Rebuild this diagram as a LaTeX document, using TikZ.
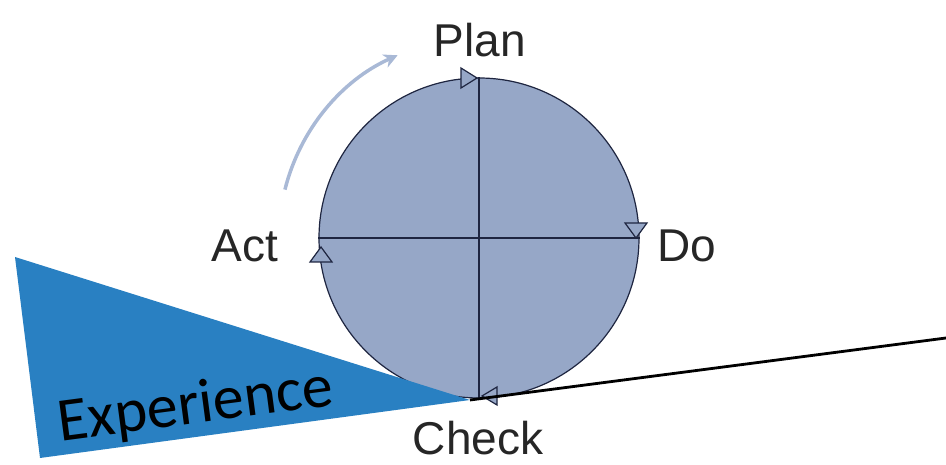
\documentclass[tikz,border=0pt]{standalone}
\usepackage{fontspec}
\setmainfont{Liberation Sans}
\newfontfamily\expfont{Carlito}
\usetikzlibrary{arrows.meta}
\definecolor{cfill}{HTML}{96A7C7}
\definecolor{cline}{HTML}{1E2540}
\definecolor{tri}{HTML}{2980C2}
\definecolor{arc}{HTML}{A9B9D6}
\tikzset{
  x=1pt,y=1pt,
  lbl/.style={font=\fontsize{46}{46}\selectfont, text=black!85, inner sep=0pt},
  marker/.style={draw=cline, fill=cfill, line width=1.2pt, line join=miter},
  axis/.style={draw=cline, line width=1.3pt},
}
\begin{document}
\begin{tikzpicture}
\useasboundingbox (0,0) rectangle (946,465);
% circle
\node[circle, minimum size=320pt, fill=cfill, draw=cline, line width=1.2pt, inner sep=0pt] (c) at (479,227) {};
\draw[axis] (c.north) -- (c.south);
\draw[axis] (c.west) -- (c.east);
% cycle arrow
\draw[arc, line width=3.5pt, -{Stealth[length=14pt,width=14pt]}] (479,227) ++(166:200) arc[start angle=166, end angle=114, radius=200];
% markers
\draw[marker] (461,397) -- (477,387) -- (461,377) -- cycle;
\draw[marker] (625,242) -- (647,242) -- (636,227) -- cycle;
\draw[marker] (310,203) -- (332,203) -- (321,218) -- cycle;
\draw[marker] (497,78) -- (497,60) -- (482,69) -- cycle;
% triangle
\coordinate (t1) at (15,208);
\coordinate (t2) at (40,7);
\coordinate (t3) at (470,65);
\fill[tri] (t1) -- (t2) -- (t3) -- cycle;
\coordinate (lend) at (946,127);
\draw[black, line width=2.8pt] (t3) -- (lend);
\node[font=\expfont\fontsize{62}{62}\selectfont, rotate=7.5, inner sep=0pt] (exp) at (196,58) {Experience};
% labels
\node[lbl, anchor=base] (plan) at (480,408) {Plan};
\node[lbl, anchor=base west] (do) at (657,203) {Do};
\node[lbl, anchor=base east] (act) at (278,203) {Act};
\node[lbl, anchor=base] (check) at (478,10) {Check};
\end{tikzpicture}
\end{document}
